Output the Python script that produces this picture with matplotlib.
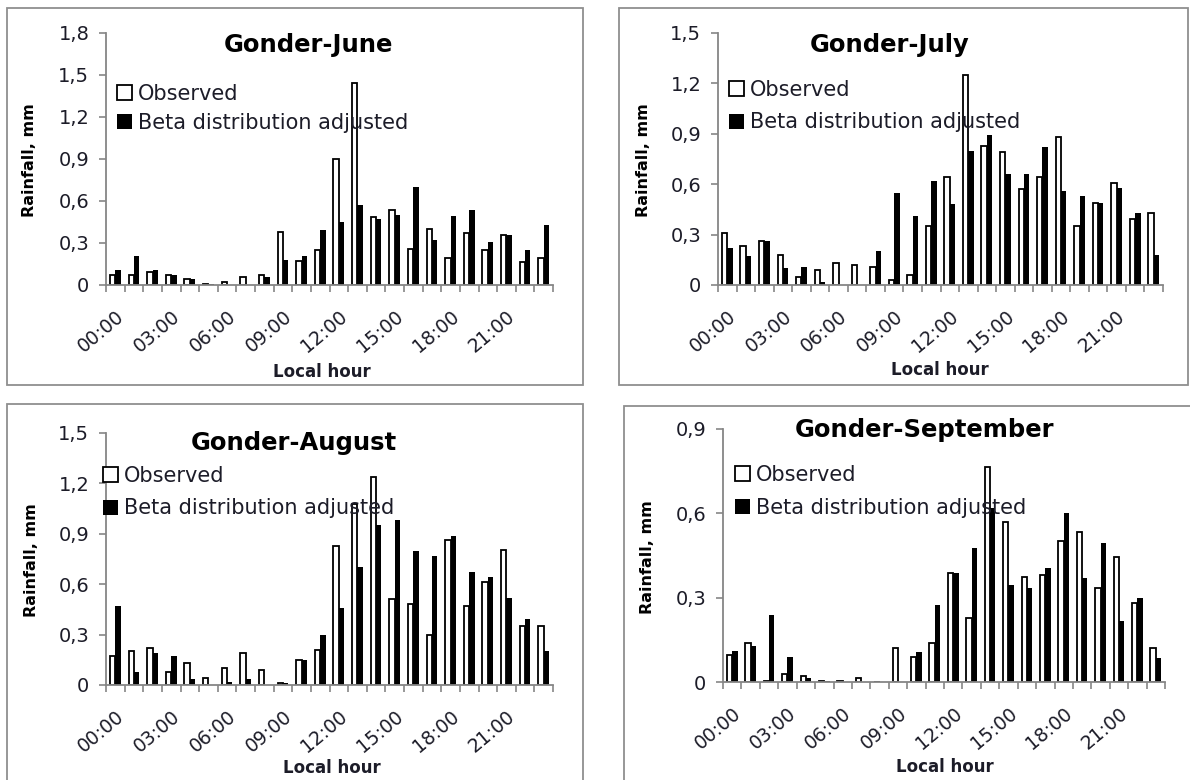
import numpy as np
import matplotlib.pyplot as plt
from matplotlib.patches import Rectangle
from matplotlib.transforms import ScaledTranslation

plt.rcParams['font.family'] = ['DejaVu Sans']

hours = ["00:00", "01:00", "02:00", "03:00", "04:00", "05:00", "06:00", "07:00",
         "08:00", "09:00", "10:00", "11:00", "12:00", "13:00", "14:00", "15:00",
         "16:00", "17:00", "18:00", "19:00", "20:00", "21:00", "22:00", "23:00"]

# hourly rainfall (mm), observed vs beta-distribution adjusted
june_obs = [0.07, 0.07, 0.095, 0.07, 0.045, 0.01, 0.02, 0.06, 0.07, 0.38, 0.175, 0.25,
            0.90, 1.44, 0.485, 0.535, 0.26, 0.40, 0.19, 0.37, 0.25, 0.355, 0.165, 0.19]
june_beta = [0.105, 0.21, 0.105, 0.07, 0.045, 0.01, 0.0, 0.0, 0.06, 0.18, 0.21, 0.39,
             0.45, 0.57, 0.475, 0.50, 0.70, 0.32, 0.49, 0.535, 0.31, 0.355, 0.25, 0.43]

july_obs = [0.31, 0.23, 0.26, 0.18, 0.045, 0.09, 0.13, 0.12, 0.11, 0.03, 0.06, 0.35,
            0.64, 1.25, 0.83, 0.79, 0.57, 0.645, 0.88, 0.35, 0.49, 0.61, 0.39, 0.43]
july_beta = [0.22, 0.17, 0.26, 0.10, 0.11, 0.02, 0.0, 0.0, 0.20, 0.55, 0.41, 0.62,
             0.48, 0.80, 0.895, 0.66, 0.66, 0.82, 0.56, 0.53, 0.49, 0.58, 0.43, 0.18]

aug_obs = [0.17, 0.20, 0.22, 0.075, 0.13, 0.04, 0.10, 0.19, 0.09, 0.01, 0.15, 0.21,
           0.83, 1.08, 1.24, 0.51, 0.48, 0.30, 0.865, 0.47, 0.615, 0.805, 0.35, 0.35]
aug_beta = [0.47, 0.075, 0.19, 0.17, 0.035, 0.0, 0.015, 0.035, 0.0, 0.01, 0.15, 0.30,
            0.46, 0.70, 0.955, 0.985, 0.795, 0.765, 0.885, 0.675, 0.645, 0.52, 0.39, 0.20]

sep_obs = [0.097, 0.14, 0.005, 0.03, 0.02, 0.005, 0.005, 0.015, 0.0, 0.12, 0.088, 0.14,
           0.387, 0.228, 0.765, 0.57, 0.375, 0.382, 0.50, 0.535, 0.335, 0.446, 0.281, 0.12]
sep_beta = [0.11, 0.127, 0.24, 0.09, 0.015, 0.005, 0.0, 0.0, 0.0, 0.0, 0.105, 0.275,
            0.387, 0.476, 0.618, 0.346, 0.335, 0.406, 0.60, 0.37, 0.493, 0.216, 0.30, 0.085]

W, H = 1190, 780
fig = plt.figure(figsize=(W / 100, H / 100), dpi=100)

AXIS_GREY = '#868686'
TXT = '#1c1c28'


def px(x, y):
    return x / W, 1 - y / H


def fmt(v):
    return '0' if v == 0 else f"{v:.1f}".replace('.', ',')


def panel(box, ax_px, ymax, title, title_xy, ylab_xy, xlab_xy, leg_xy, leg_gap, obs, beta):
    # chart-area frame
    bx0, by0, bx1, by1 = box
    fig.patches.append(Rectangle(px(bx0, by1), (bx1 - bx0) / W, (by1 - by0) / H,
                                 transform=fig.transFigure, fill=False,
                                 edgecolor='#8f8f8f', lw=1.3))
    x0, y0, x1, y1 = ax_px
    ax = fig.add_axes([x0 / W, 1 - y1 / H, (x1 - x0) / W, (y1 - y0) / H])
    x = np.arange(len(hours))
    b1 = ax.bar(x - 0.145, obs, 0.29, facecolor='white', edgecolor='black', lw=1.3,
                label='Observed')
    b2 = ax.bar(x + 0.145, beta, 0.29, color='black', label='Beta distribution adjusted')

    ax.set_xlim(-0.5, len(hours) - 0.5)
    ax.set_ylim(0, ymax)
    yt = np.round(np.arange(0, ymax + 1e-6, 0.3), 1)
    ax.set_yticks(yt)
    ax.set_yticklabels([fmt(v) for v in yt], fontsize=14, color=TXT)
    ax.set_xticks(x[::3])
    ax.set_xticklabels(hours[::3], rotation=40, ha='right', rotation_mode='anchor',
                       fontsize=13.5, color=TXT)
    shift = ScaledTranslation(6 / 100, 0, fig.dpi_scale_trans)
    for lab in ax.get_xticklabels():
        lab.set_transform(lab.get_transform() + shift)
    ax.set_xticks(np.arange(-0.5, len(hours), 1), minor=True)
    ax.tick_params(axis='x', which='major', length=0, pad=16)
    ax.tick_params(axis='x', which='minor', length=5, color=AXIS_GREY, width=1.2)
    ax.tick_params(axis='y', length=5, color=AXIS_GREY, width=1.2, pad=7)
    for s in ('top', 'right'):
        ax.spines[s].set_visible(False)
    for s in ('left', 'bottom'):
        ax.spines[s].set_color(AXIS_GREY)
        ax.spines[s].set_linewidth(1.3)

    fig.text(*px(*title_xy), title, fontsize=17.5, fontweight='bold', ha='center',
             va='center', color='black')
    fig.text(*px(*ylab_xy), 'Rainfall, mm', fontsize=11.5, fontweight='bold',
             rotation=90, ha='center', va='center', color='black')
    fig.text(*px(*xlab_xy), 'Local hour', fontsize=12, fontweight='bold',
             ha='center', va='center', color=TXT)

    ax.legend(handles=[b1, b2], loc='upper left', bbox_to_anchor=px(*leg_xy),
              bbox_transform=fig.transFigure, frameon=False, fontsize=15,
              handlelength=0.7, handleheight=0.7, handletextpad=0.3,
              labelspacing=leg_gap, borderpad=0, borderaxespad=0, labelcolor=TXT)
    return ax


panel((7, 8, 583, 385), (106, 33, 553, 285), 1.8, 'Gonder-June', (308, 45),
      (30, 160), (322, 372), (117, 84), 0.42, june_obs, june_beta)
panel((619, 8, 1188, 385), (718, 33, 1163, 285), 1.5, 'Gonder-July', (890, 45),
      (643, 160), (940, 370), (729, 80), 0.6, july_obs, july_beta)
panel((7, 404, 583, 790), (106, 433, 553, 685), 1.5, 'Gonder-August', (294, 443),
      (32, 560), (332, 768), (103, 466), 0.6, aug_obs, aug_beta)
panel((624, 406, 1192, 790), (723, 429, 1165, 682), 0.9, 'Gonder-September', (925, 430),
      (647, 557), (945, 767), (735, 465), 0.6, sep_obs, sep_beta)

fig.savefig('out.png', dpi=100, facecolor='white')
